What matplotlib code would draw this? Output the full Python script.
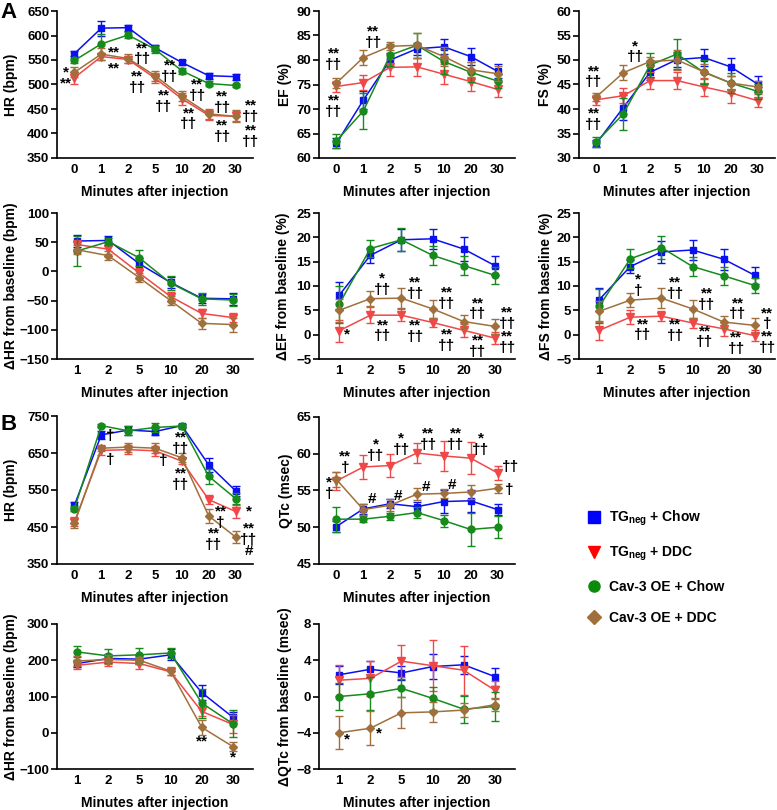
import matplotlib
matplotlib.use('Agg')
import matplotlib.pyplot as plt
from matplotlib.lines import Line2D

plt.rcParams['font.family'] = ['Liberation Sans', 'DejaVu Sans']
plt.rcParams['font.weight'] = 'bold'
plt.rcParams['axes.labelweight'] = 'bold'
plt.rcParams['mathtext.fontset'] = 'custom'
plt.rcParams['mathtext.rm'] = 'Liberation Sans:bold'
plt.rcParams['mathtext.bf'] = 'Liberation Sans:bold'
plt.rcParams['mathtext.default'] = 'bf'

# --- categorias (minutos apos injecao) e grupos
t_full = ['0', '1', '2', '5', '10', '20', '30']
t_delta = ['1', '2', '5', '10', '20', '30']
groups = ['TG$_{neg}$ + Chow', 'TG$_{neg}$ + DDC', 'Cav-3 OE + Chow', 'Cav-3 OE + DDC']
colors = ['#0a10f0', '#f04848', '#178a1c', '#a0703c']
leg_colors = ['#0000ff', '#ff0000', '#0c8a0c', '#a0703c']
markers = ['s', 'v', 'o', 'D']
msizes = [5, 6, 5, 4.5]

# --- A: HR
hr_a_mean = [[563, 615, 616, 575, 545, 518, 516],
             [514, 557, 551, 513, 471, 437, 435],
             [549, 583, 601, 572, 528, 502, 498],
             [525, 562, 553, 518, 476, 440, 435]]
hr_a_sem = [[5, 15, 6, 6, 6, 6, 6],
            [12, 8, 8, 10, 12, 10, 10],
            [6, 20, 7, 7, 6, 5, 4],
            [10, 12, 10, 10, 10, 10, 12]]
hr_a_marks = [(-0.3, 513, '*\n**'), (1.47, 566, '**'), (1.47, 532, '**'),
              (2.52, 563, '**\n††'), (2.34, 505, '**\n††'),
              (3.55, 527, '**\n††'), (3.33, 466, '**\n††'),
              (4.57, 488, '**\n††'), (4.26, 430, '**\n††'),
              (5.5, 464, '**\n††'), (5.5, 405, '**\n††'),
              (6.56, 445, '**\n††'), (6.56, 395, '**\n††')]

# --- A: EF
ef_mean = [[63.0, 71.8, 80.0, 82.3, 82.7, 80.7, 77.7],
           [74.6, 75.4, 78.5, 78.6, 77.1, 75.6, 74.0],
           [63.5, 69.6, 81.0, 83.0, 79.7, 77.5, 75.7],
           [75.3, 80.5, 82.8, 83.0, 80.7, 78.0, 77.2]]
ef_sem = [[1.0, 1.8, 1.5, 1.2, 1.5, 1.8, 1.4],
          [1.2, 1.6, 1.7, 1.9, 2.0, 2.0, 1.5],
          [1.4, 3.7, 2.2, 2.5, 2.5, 2.0, 1.5],
          [1.0, 1.5, 0.8, 2.5, 2.0, 1.5, 1.5]]
ef_marks = [(-0.1, 80.2, '**\n††'), (-0.1, 70.5, '**\n††'), (1.37, 84.6, '**\n††')]

# --- A: FS
fs_mean = [[33.0, 40.3, 47.5, 50.1, 50.5, 48.6, 45.1],
           [41.9, 42.7, 45.8, 45.8, 44.5, 43.3, 41.7],
           [33.3, 39.0, 49.0, 51.2, 47.5, 45.3, 43.6],
           [42.5, 47.4, 49.7, 50.0, 47.6, 45.3, 44.5]]
fs_sem = [[0.7, 2.5, 1.5, 1.5, 1.7, 1.8, 1.6],
          [1.0, 1.5, 1.7, 1.7, 1.8, 2.0, 1.3],
          [1.0, 3.3, 2.5, 3.0, 2.5, 2.0, 1.5],
          [0.8, 1.5, 1.0, 2.0, 1.5, 1.5, 1.3]]
fs_marks = [(-0.1, 46.6, '**\n††'), (-0.1, 37.9, '**\n††'), (1.44, 51.7, '*\n††')]

# --- A: delta HR
dhr_a_mean = [[52, 53, 13, -19, -46, -47],
              [46, 38, -3, -43, -72, -79],
              [35, 51, 23, -20, -47, -49],
              [37, 27, -11, -50, -89, -91]]
dhr_a_sem = [[10, 8, 10, 10, 8, 10],
             [8, 8, 8, 8, 8, 8],
             [25, 6, 14, 12, 10, 10],
             [8, 8, 8, 8, 10, 12]]
dhr_a_marks = []

# --- A: delta EF
def_mean = [[8.1, 16.3, 19.5, 19.7, 17.6, 14.2],
            [0.8, 4.0, 4.0, 2.5, 0.9, -0.7],
            [6.3, 17.7, 19.5, 16.3, 14.2, 12.2],
            [5.0, 7.4, 7.5, 5.3, 2.7, 1.7]]
def_sem = [[2.8, 1.6, 2.3, 2.0, 2.5, 2.0],
           [2.3, 1.7, 1.2, 1.0, 1.3, 1.2],
           [3.8, 1.8, 2.4, 2.0, 2.0, 1.7],
           [2.3, 1.6, 2.0, 1.9, 1.3, 1.6]]
def_marks = [(0.25, 0.0, '*'), (1.38, 10.3, '*\n††'), (1.4, 0.8, '**\n††'),
             (2.45, 9.6, '**\n††'), (2.45, 0.7, '**\n††'),
             (3.45, 7.5, '**\n††'), (3.45, -1.2, '**\n††'),
             (4.45, 5.3, '**\n††'), (4.45, -2.4, '**\n††'),
             (5.4, 3.4, '**\n††'), (5.4, -1.5, '**\n††')]

# --- A: delta FS
dfs_mean = [[7.2, 14.0, 17.0, 17.4, 15.5, 12.2],
            [0.9, 3.6, 3.8, 2.4, 1.2, -0.2],
            [5.8, 15.6, 17.9, 14.0, 12.1, 10.1],
            [4.8, 7.1, 7.5, 5.3, 2.6, 1.9]]
dfs_sem = [[2.4, 1.3, 2.3, 2.0, 2.2, 1.8],
           [2.0, 1.5, 1.0, 1.0, 1.4, 1.2],
           [3.5, 2.0, 2.3, 2.0, 1.8, 1.5],
           [2.2, 1.5, 2.0, 1.8, 1.2, 1.5]]
dfs_marks = [(1.26, 10.2, '*\n†'), (1.4, 1.0, '**\n††'),
             (2.45, 9.6, '**\n††'), (2.45, 0.9, '**\n††'),
             (3.45, 7.3, '**\n††'), (3.4, -0.4, '**\n††'),
             (4.45, 5.3, '**\n††'), (4.4, -1.8, '**\n††'),
             (5.4, 3.3, '**\n†'), (5.4, -1.6, '**\n††')]

# --- B: HR
hr_b_mean = [[509, 699, 712, 708, 724, 618, 548],
             [464, 657, 659, 656, 628, 524, 492],
             [500, 724, 710, 719, 723, 587, 527],
             [460, 663, 666, 663, 637, 480, 423]]
hr_b_sem = [[8, 10, 12, 10, 5, 18, 14],
            [12, 12, 12, 14, 8, 12, 18],
            [8, 5, 12, 12, 5, 20, 14],
            [12, 8, 12, 14, 12, 20, 15]]
hr_b_marks = [(1.32, 695, '†'), (1.32, 632, '†'), (3.29, 628, '†'),
              (3.95, 677, '**\n††'), (3.95, 580, '**\n††'),
              (5.44, 477, '**\n†'), (5.19, 416, '**\n††'),
              (6.5, 491, '*'), (6.5, 416, '**\n††\n#')]

# --- B: QTc
qtc_mean = [[50.1, 52.5, 53.2, 52.8, 53.5, 53.6, 52.4],
            [56.3, 58.2, 58.4, 60.1, 59.7, 59.4, 57.4],
            [51.1, 51.1, 51.5, 52.0, 50.9, 49.7, 50.0],
            [56.5, 52.4, 53.0, 54.5, 54.6, 54.8, 55.3]]
qtc_sem = [[0.8, 0.7, 0.6, 0.7, 1.5, 1.5, 0.8],
           [1.2, 1.6, 1.6, 1.3, 2.0, 2.2, 1.0],
           [1.7, 0.4, 0.5, 0.8, 0.8, 2.2, 1.5],
           [1.0, 0.8, 0.8, 0.8, 0.6, 1.0, 0.6]]
qtc_marks = [(-0.28, 55.3, '*\n†'), (0.31, 58.8, '**\n†'), (1.47, 60.5, '*\n††'),
             (2.41, 61.3, '*\n††'), (3.42, 62.0, '**\n††'), (4.44, 62.0, '**\n††'),
             (5.37, 61.3, '*\n††'), (6.49, 58.2, '††'), (6.44, 55.1, '†'),
             (1.32, 53.9, '#'), (2.3, 54.3, '#'), (3.33, 55.5, '#'), (4.3, 55.8, '#')]

# --- B: delta HR
dhr_b_mean = [[191, 205, 203, 215, 111, 43],
              [186, 195, 191, 168, 59, 23],
              [223, 212, 215, 220, 82, 25],
              [198, 202, 200, 170, 15, -38]]
dhr_b_sem = [[10, 12, 12, 15, 22, 15],
             [10, 10, 15, 10, 12, 25],
             [15, 20, 20, 15, 40, 38],
             [15, 12, 10, 12, 20, 12]]
dhr_b_marks = [(4.0, -23, '**'), (5.0, -68, '*')]

# --- B: delta QTc
dqtc_mean = [[2.4, 3.0, 2.6, 3.3, 3.5, 2.2],
             [1.8, 2.0, 3.9, 3.4, 2.9, 0.7],
             [0.0, 0.3, 0.9, -0.2, -1.4, -1.1],
             [-4.0, -3.5, -1.8, -1.7, -1.5, -0.9]]
dqtc_sem = [[1.0, 0.9, 0.8, 1.4, 1.0, 1.0],
            [1.7, 1.9, 1.8, 2.8, 2.7, 1.0],
            [1.5, 1.8, 1.0, 1.3, 1.5, 1.6],
            [1.8, 1.9, 1.7, 1.1, 0.8, 0.7]]
dqtc_marks = [(0.26, -4.7, '*'), (1.28, -4.1, '*')]

W, H = 777, 810
fig = plt.figure(figsize=(W / 100, H / 100), dpi=100)


# -----------------------------------------------
# desenha um painel.
# -----------------------------------------------
def painel(box, cats, means, sems, ylim, yticks, ylabel, lab_x, marks):
    l, t, r, b = box
    ax = fig.add_axes([l / W, 1 - b / H, (r - l) / W, (b - t) / H])
    x = list(range(len(cats)))
    for k in range(4):
        ax.errorbar(x, means[k], yerr=sems[k], color=colors[k], marker=markers[k],
                    ms=msizes[k], lw=1.1, elinewidth=1, capsize=3, capthick=1,
                    zorder=3 + k)
    ax.set_xlim(-0.65, len(cats) - 0.35)
    ax.set_ylim(*ylim)
    ax.set_xticks(x)
    ax.set_xticklabels(cats)
    ax.set_yticks(yticks)
    ax.spines['top'].set_visible(False)
    ax.spines['right'].set_visible(False)
    for s in ('left', 'bottom'):
        ax.spines[s].set_linewidth(1.2)
    ax.tick_params(axis='y', length=4, width=1.2, labelsize=9.5, pad=1.5)
    ax.tick_params(axis='x', length=0, labelsize=9.5, pad=4.5)
    ax.set_xlabel('Minutes after injection', fontsize=10, labelpad=6.5)
    ax.set_ylabel(ylabel, fontsize=10)
    ax.yaxis.set_label_coords(lab_x, 0.5)
    for (mx, my, txt) in marks:
        ax.text(mx, my, txt, ha='center', va='center', fontsize=11,
                fontweight='bold', linespacing=0.75, zorder=10)
    return ax


painel((57, 11, 253, 158), t_full, hr_a_mean, hr_a_sem, (350, 650),
       range(350, 651, 50), 'HR (bpm)', -0.2, hr_a_marks)
painel((319, 11, 515, 158), t_full, ef_mean, ef_sem, (60, 90),
       range(60, 91, 5), 'EF (%)', -0.14, ef_marks)
painel((579, 11, 775, 158), t_full, fs_mean, fs_sem, (30, 60),
       range(30, 61, 5), 'FS (%)', -0.14, fs_marks)

painel((57, 213, 253, 359), t_delta, dhr_a_mean, dhr_a_sem, (-150, 100),
       range(-150, 101, 50), '\u0394HR from baseline (bpm)', -0.2, dhr_a_marks)
painel((319, 213, 515, 359), t_delta, def_mean, def_sem, (-5, 25),
       range(-5, 26, 5), '\u0394EF from baseline (%)', -0.15, def_marks)
painel((579, 213, 775, 359), t_delta, dfs_mean, dfs_sem, (-5, 25),
       range(-5, 26, 5), '\u0394FS from baseline (%)', -0.135, dfs_marks)

painel((57, 416, 253, 564), t_full, hr_b_mean, hr_b_sem, (350, 750),
       range(350, 751, 100), 'HR (bpm)', -0.2, hr_b_marks)
painel((319, 417, 515, 564), t_full, qtc_mean, qtc_sem, (45, 65),
       range(45, 66, 5), 'QTc (msec)', -0.135, qtc_marks)

painel((57, 624, 253, 769), t_delta, dhr_b_mean, dhr_b_sem, (-100, 300),
       range(-100, 301, 100), '\u0394HR from baseline (bpm)', -0.2, dhr_b_marks)
painel((319, 624, 515, 769), t_delta, dqtc_mean, dqtc_sem, (-8, 8),
       range(-8, 9, 4), '\u0394QTc from baseline (msec)', -0.14, dqtc_marks)

# letras dos paineis.
fig.text(0 / W, 1 - 2 / H, 'A', fontsize=16, fontweight='bold', va='top', ha='left')
fig.text(1 / W, 1 - 414 / H, 'B', fontsize=16, fontweight='bold', va='top', ha='left')

# legenda.
handles = [Line2D([], [], ls='none', marker=m, color=c, ms=s)
           for m, c, s in zip(markers, leg_colors, [8, 9, 8, 7])]
fig.legend(handles, groups, loc='upper left', bbox_to_anchor=(580 / W, 1 - 503 / H),
           frameon=False, fontsize=10, labelspacing=1.22, handletextpad=0.5,
           handlelength=1.2, borderaxespad=0)

fig.savefig('out.png', dpi=100)
